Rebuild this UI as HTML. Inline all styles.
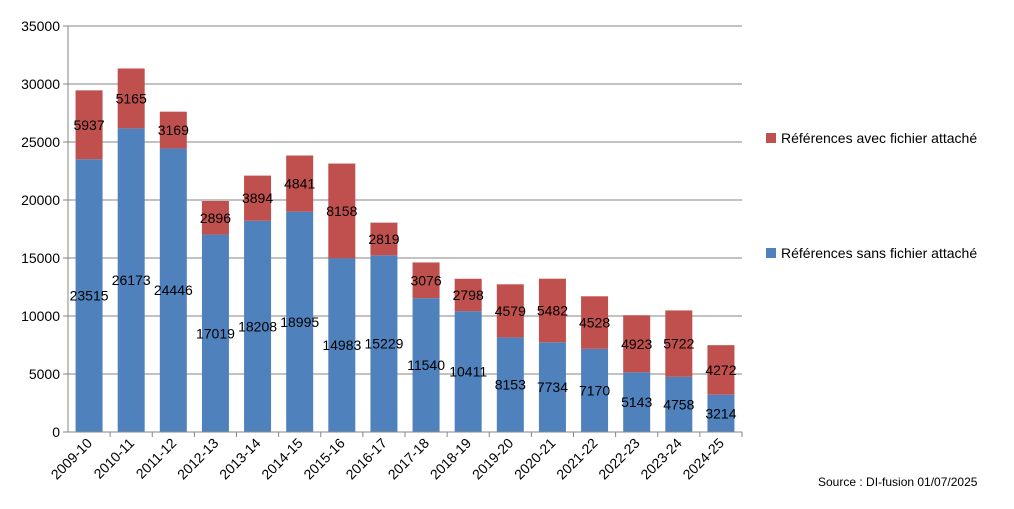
<!DOCTYPE html>
<html><head><meta charset="utf-8"><style>
body{margin:0;background:#fff;font-family:"Liberation Sans",sans-serif;}
svg text{font-family:"Liberation Sans",sans-serif;}
</style></head><body>
<svg id="chart" width="1014" height="504" xmlns="http://www.w3.org/2000/svg">
<g id="grid"></g>
<g id="bars"></g>
<g id="axes"></g>
<g>
<rect x="766" y="133" width="10" height="10" fill="#c0504d"/>
<text x="781" y="143" font-size="14" fill="#000">Références avec fichier attaché</text>
<rect x="766" y="248" width="10" height="10" fill="#4f81bd"/>
<text x="781" y="258" font-size="14" fill="#000">Références sans fichier attaché</text>
</g>
<text x="818" y="486" font-size="12" fill="#000">Source : DI-fusion  01/07/2025</text>
</svg>
<script>
const categories=["2009-10","2010-11","2011-12","2012-13","2013-14","2014-15","2015-16","2016-17","2017-18","2018-19","2019-20","2020-21","2021-22","2022-23","2023-24","2024-25"];
const sansValues=[23515,26173,24446,17019,18208,18995,14983,15229,11540,10411,8153,7734,7170,5143,4758,3214];
const avecValues=[5937,5165,3169,2896,3894,4841,8158,2819,3076,2798,4579,5482,4528,4923,5722,4272];
const yTicks=[0,5000,10000,15000,20000,25000,30000,35000];
const NS="http://www.w3.org/2000/svg";
const x0=68,x1=742,yTop=26,yBot=432,yMax=35000;
const band=(x1-x0)/categories.length,barW=27;
function yS(v){return yBot-(v/yMax)*(yBot-yTop);}
function xC(i){return x0+band*(i+0.5);}
function mk(tag,attrs,parent){const e=document.createElementNS(NS,tag);for(const k in attrs)e.setAttribute(k,attrs[k]);parent.appendChild(e);return e;}
const grid=document.getElementById('grid'),bars=document.getElementById('bars'),axes=document.getElementById('axes');
yTicks.forEach(t=>{
 if(t>0){const l=mk('line',{x1:x0,x2:x1,y1:yS(t),y2:yS(t),stroke:'#868686','stroke-width':1},grid);
 
 }
 const tx=mk('text',{x:x0-8,y:yS(t)+5,'text-anchor':'end','font-size':14,fill:'#000'},axes);
 tx.textContent=t;
 
 
 const tk=mk('line',{x1:x0-5,x2:x0,y1:yS(t),y2:yS(t),stroke:'#868686'},axes);
 
 
});
const ya=mk('line',{x1:x0,x2:x0,y1:yTop,y2:yBot,stroke:'#868686'},axes);


const xa=mk('line',{x1:x0,x2:x1,y1:yBot,y2:yBot,stroke:'#868686'},axes);


categories.forEach((c,i)=>{
 const cx=xC(i),s=sansValues[i],a=avecValues[i];
 const b1=mk('rect',{x:cx-barW/2,y:yS(s),width:barW,height:yBot-yS(s),fill:'#4f81bd'},bars);
 
 
 const b2=mk('rect',{x:cx-barW/2,y:yS(s+a),width:barW,height:yS(s)-yS(s+a),fill:'#c0504d'},bars);
 
 
 const l1=mk('text',{x:cx,y:(yS(0)+yS(s))/2+5,'text-anchor':'middle','font-size':14,fill:'#000'},bars);
 l1.textContent=s;
 
 
 const l2=mk('text',{x:cx,y:(yS(s)+yS(s+a))/2+5,'text-anchor':'middle','font-size':14,fill:'#000'},bars);
 l2.textContent=a;
 
 
 const tk=mk('line',{x1:x0+band*(i+1),x2:x0+band*(i+1),y1:yBot,y2:yBot+5,stroke:'#868686'},axes);
 
 
 const xl=mk('text',{x:cx+4,y:yBot+12,'text-anchor':'end','font-size':14,fill:'#000',transform:`rotate(-45 ${cx+4} ${yBot+12})`},axes);
 xl.textContent=c;
 
 
});
</script>
</body></html>
